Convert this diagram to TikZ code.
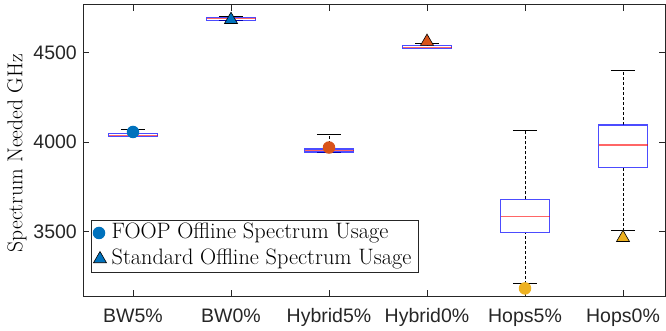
\documentclass[tikz,border=0pt]{standalone}
\usepackage{fontspec}
\usepackage{xcolor}
\usepackage{tikz}
\usetikzlibrary{positioning,shapes.geometric}

\newfontfamily\ticksf{Liberation Sans}
\definecolor{mblue}{rgb}{0,0.447,0.741}
\definecolor{morange}{rgb}{0.85,0.325,0.098}
\definecolor{myellow}{rgb}{0.929,0.694,0.125}
\definecolor{axgray}{gray}{0.15}

\begin{document}
\begin{tikzpicture}[
  x=1pt,y=1pt,
  ticklab/.style={font=\ticksf\fontsize{19.5}{22}\selectfont,text=axgray,inner sep=0pt},
  legtext/.style={font=\fontsize{22.3}{25}\selectfont,inner sep=0pt},
  axline/.style={draw=axgray,line width=0.7pt},
  whisk/.style={densely dashed,line width=0.6pt},
  capline/.style={line width=0.7pt},
  boxline/.style={draw=blue,draw opacity=0.7,line width=1.1pt},
  medline/.style={draw=red,draw opacity=0.6,line width=1.1pt},
  foopmark/.style={circle,fill=#1,inner sep=0pt,minimum size=12.5pt},
  stdmark/.style={regular polygon,regular polygon sides=3,draw=black,line width=0.6pt,fill=#1,inner sep=0pt,minimum size=15pt}]
  \useasboundingbox (0,0) rectangle (666,331);

  % data area: x = group index, y = GHz
  \begin{scope}[x=98pt,y=0.179pt,shift={(35pt,-527pt)}]
    \draw[axline] (0.49,3137) rectangle (6.43,4768);
    \foreach \v in {3500,4000,4500} {
      \draw[axline] (0.49,\v) -- ++(6pt,0);
      \draw[axline] (6.43,\v) -- ++(-6pt,0);
      \node[ticklab,anchor=east] (yt\v) at ([xshift=-6pt]0.49,\v) {\v};
    }
    \foreach \x/\name in {1/BW5\%,2/BW0\%,3/Hybrid5\%,4/Hybrid0\%,5/Hops5\%,6/Hops0\%} {
      \draw[axline] (\x,3137) -- ++(0,6pt);
      \draw[axline] (\x,4768) -- ++(0,-6pt);
      \node[ticklab,anchor=north] (xt\x) at ([yshift=-12pt]\x,3137) {\name};
    }

    % boxes: lower cap, q1, median, q3, upper cap
    \foreach \x/\lo/\qa/\md/\qb/\hi in {1/4030/4030/4037/4045/4071,
        2/4679/4679/4688/4697/4701, 3/3944/3944/3953/3961/4041,
        4/4521/4521/4530/4539/4552, 5/3209/3494/3584/3679/4064,
        6/3504/3858/3983/4095/4400} {
      \draw[whisk] (\x,\lo) -- (\x,\qa);
      \draw[whisk] (\x,\qb) -- (\x,\hi);
      \draw[capline] (\x-0.125,\lo) -- (\x+0.125,\lo);
      \draw[capline] (\x-0.125,\hi) -- (\x+0.125,\hi);
      \draw[boxline,fill=white] (\x-0.25,\qa) rectangle (\x+0.25,\qb);
      \draw[medline] (\x-0.25,\md) -- (\x+0.25,\md);
    }

    % offline spectrum usage
    \node[foopmark=mblue] (f1) at (1,4056) {};
    \node[stdmark=mblue] (s1) at (2,4683) {};
    \node[foopmark=morange] (f2) at (3,3969) {};
    \node[stdmark=morange] (s2) at (4,4561) {};
    \node[foopmark=myellow] (f3) at (5,3182) {};
    \node[stdmark=myellow] (s3) at (6,3465) {};
  \end{scope}

  \node[rotate=90,font=\fontsize{21.5}{24}\selectfont] (ylab) at (17,178) {Spectrum Needed GHz};

  % legend
  \draw[draw=axgray,line width=0.6pt,fill=white] (91,59) rectangle (418,111);
  \node[foopmark=mblue] (k1) at (99,98) {};
  \node[stdmark=mblue] (k2) at (100,72) {};
  \node[legtext,right=6pt of k1] (t1) {FOOP Offline Spectrum Usage};
  \node[legtext,anchor=west] (t2) at (t1.west|-k2) {Standard Offline Spectrum Usage};
\end{tikzpicture}
\end{document}
